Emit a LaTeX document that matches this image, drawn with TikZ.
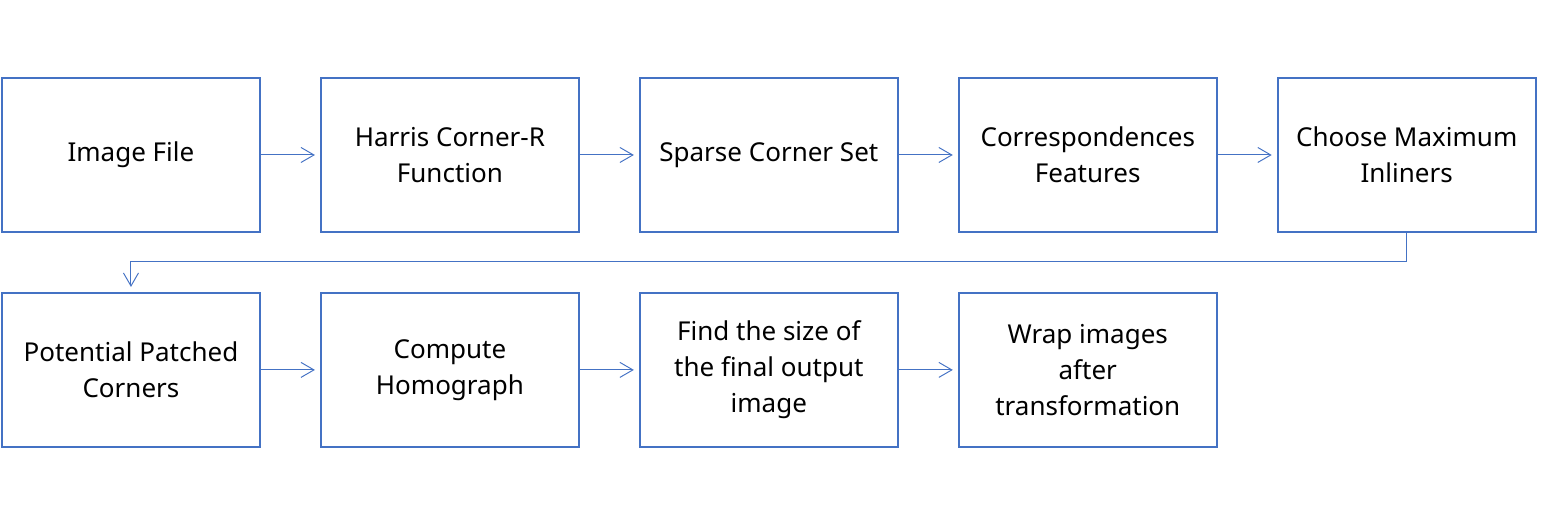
\documentclass[tikz,border=0pt]{standalone}
\usepackage{fontspec}
\setmainfont{Noto Sans}
\usetikzlibrary{positioning,arrows.meta}

\definecolor{boxblue}{HTML}{4472C4}

\tikzset{
    stagebox/.style={draw=boxblue, line width=1.1pt, minimum width=5.16cm, minimum height=3.08cm,
        align=center, font=\fontsize{14.8}{20.5}\selectfont, inner sep=2pt},
    flow/.style={draw=boxblue, line width=0.55pt, -{Straight Barb[length=0.26cm, width=0.3cm, line width=0.55pt]}, shorten >=0.1cm}
}

\begin{document}
\begin{tikzpicture}
        \useasboundingbox (0,0) rectangle (30.94,-10.5);
        % first row
        \node[stagebox, anchor=north west] (image) at (0.02,-1.54) {Image File};
        \node[stagebox, right=1.18cm of image] (harris) {Harris Corner-R\\Function};
        \node[stagebox, right=1.18cm of harris] (sparse) {Sparse Corner Set};
        \node[stagebox, right=1.18cm of sparse] (corresp) {Correspondences\\Features};
        \node[stagebox, right=1.18cm of corresp] (inliers) {Choose Maximum\\Inliners};
        % second row
        \node[stagebox, below=1.18cm of image] (patched) {Potential Patched\\Corners};
        \node[stagebox, right=1.18cm of patched] (homog) {Compute\\Homograph};
        \node[stagebox, right=1.18cm of homog] (size) {Find the size of\\the final output\\image};
        \node[stagebox, right=1.18cm of size] (wrap) {Wrap images\\after\\transformation};
        % connectors
        \draw[flow](image)--(harris);
        \draw[flow](harris)--(sparse);
        \draw[flow](sparse)--(corresp);
        \draw[flow](corresp)--(inliers);
        \draw[flow](inliers.south)--++(0,-0.58)-|(patched.north);
        \draw[flow](patched)--(homog);
        \draw[flow](homog)--(size);
        \draw[flow](size)--(wrap);
    \end{tikzpicture}
\end{document}
